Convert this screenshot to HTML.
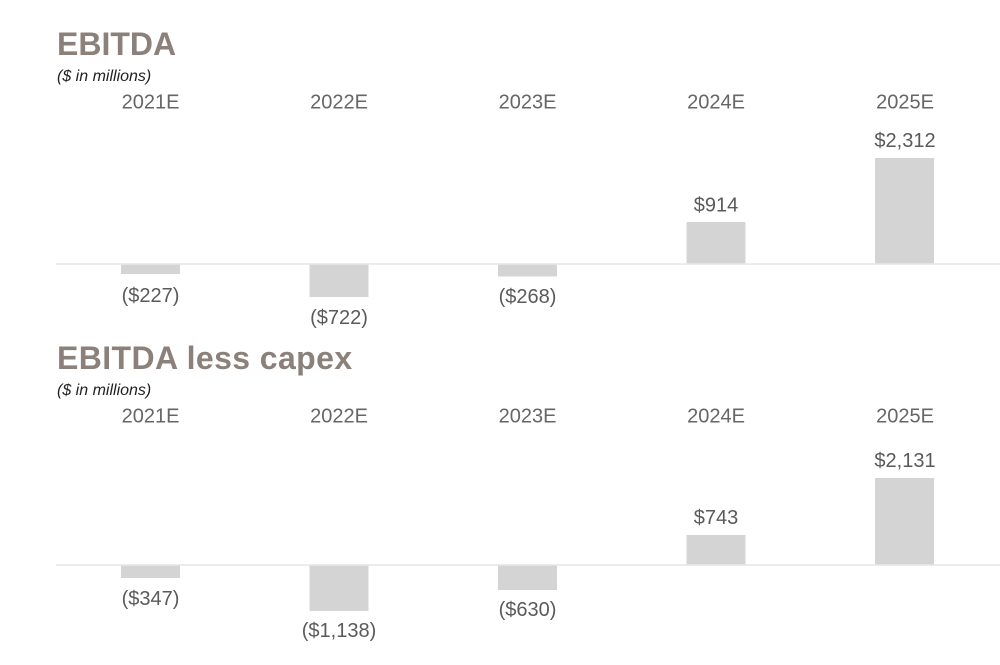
<!DOCTYPE html>
<html>
<head>
<meta charset="utf-8">
<style>
  html,body{margin:0;padding:0;background:#ffffff;}
  body{width:1000px;height:665px;overflow:hidden;}
  svg{display:block;}
  .title{font-family:"Liberation Sans",Arial,sans-serif;font-weight:bold;font-size:32px;fill:#8b817a;}
  .sub{font-family:"Liberation Sans",Arial,sans-serif;font-style:italic;font-size:16px;fill:#222;}
  .yr{font-family:"Liberation Sans",Arial,sans-serif;font-size:20px;fill:#666;text-anchor:middle;}
  .val{font-family:"Liberation Sans",Arial,sans-serif;font-size:20px;fill:#5a5a5a;text-anchor:middle;}
  .bar{fill:#d4d4d4;}
  .axis{stroke:#e6e6e6;stroke-width:1.5;}
</style>
</head>
<body>
<svg width="1000" height="665" viewBox="0 0 1000 665" xmlns="http://www.w3.org/2000/svg">
  <!-- Chart 1: EBITDA -->
  <text class="title" x="57" y="55">EBITDA</text>
  <text class="sub" x="57" y="81">($ in millions)</text>
  <text class="yr" x="150.5" y="108.5">2021E</text>
  <text class="yr" x="339" y="108.5">2022E</text>
  <text class="yr" x="527.5" y="108.5">2023E</text>
  <text class="yr" x="716" y="108.5">2024E</text>
  <text class="yr" x="905" y="108.5">2025E</text>

  <rect class="bar" x="121" y="264" width="59" height="10"/>
  <rect class="bar" x="309.5" y="264" width="59" height="33"/>
  <rect class="bar" x="498" y="264" width="59" height="12.5"/>
  <rect class="bar" x="686.5" y="222" width="59" height="42"/>
  <rect class="bar" x="875" y="158" width="59" height="106"/>
  <line class="axis" x1="56" y1="264" x2="1000" y2="264"/>

  <text class="val" x="150.5" y="302">($227)</text>
  <text class="val" x="339" y="324">($722)</text>
  <text class="val" x="527.5" y="303">($268)</text>
  <text class="val" x="716" y="211.5">$914</text>
  <text class="val" x="905" y="147">$2,312</text>

  <!-- Chart 2: EBITDA less capex -->
  <text class="title" x="57" y="369" style="letter-spacing:0.4px">EBITDA less capex</text>
  <text class="sub" x="57" y="395">($ in millions)</text>
  <text class="yr" x="150.5" y="422.5">2021E</text>
  <text class="yr" x="339" y="422.5">2022E</text>
  <text class="yr" x="527.5" y="422.5">2023E</text>
  <text class="yr" x="716" y="422.5">2024E</text>
  <text class="yr" x="905" y="422.5">2025E</text>

  <rect class="bar" x="121" y="565" width="59" height="13"/>
  <rect class="bar" x="309.5" y="565" width="59" height="46"/>
  <rect class="bar" x="498" y="565" width="59" height="25"/>
  <rect class="bar" x="686.5" y="535" width="59" height="30"/>
  <rect class="bar" x="875" y="478" width="59" height="87"/>
  <line class="axis" x1="56" y1="565" x2="1000" y2="565"/>

  <text class="val" x="150.5" y="605">($347)</text>
  <text class="val" x="339" y="637">($1,138)</text>
  <text class="val" x="527.5" y="616">($630)</text>
  <text class="val" x="716" y="524">$743</text>
  <text class="val" x="905" y="467">$2,131</text>
</svg>
</body>
</html>
